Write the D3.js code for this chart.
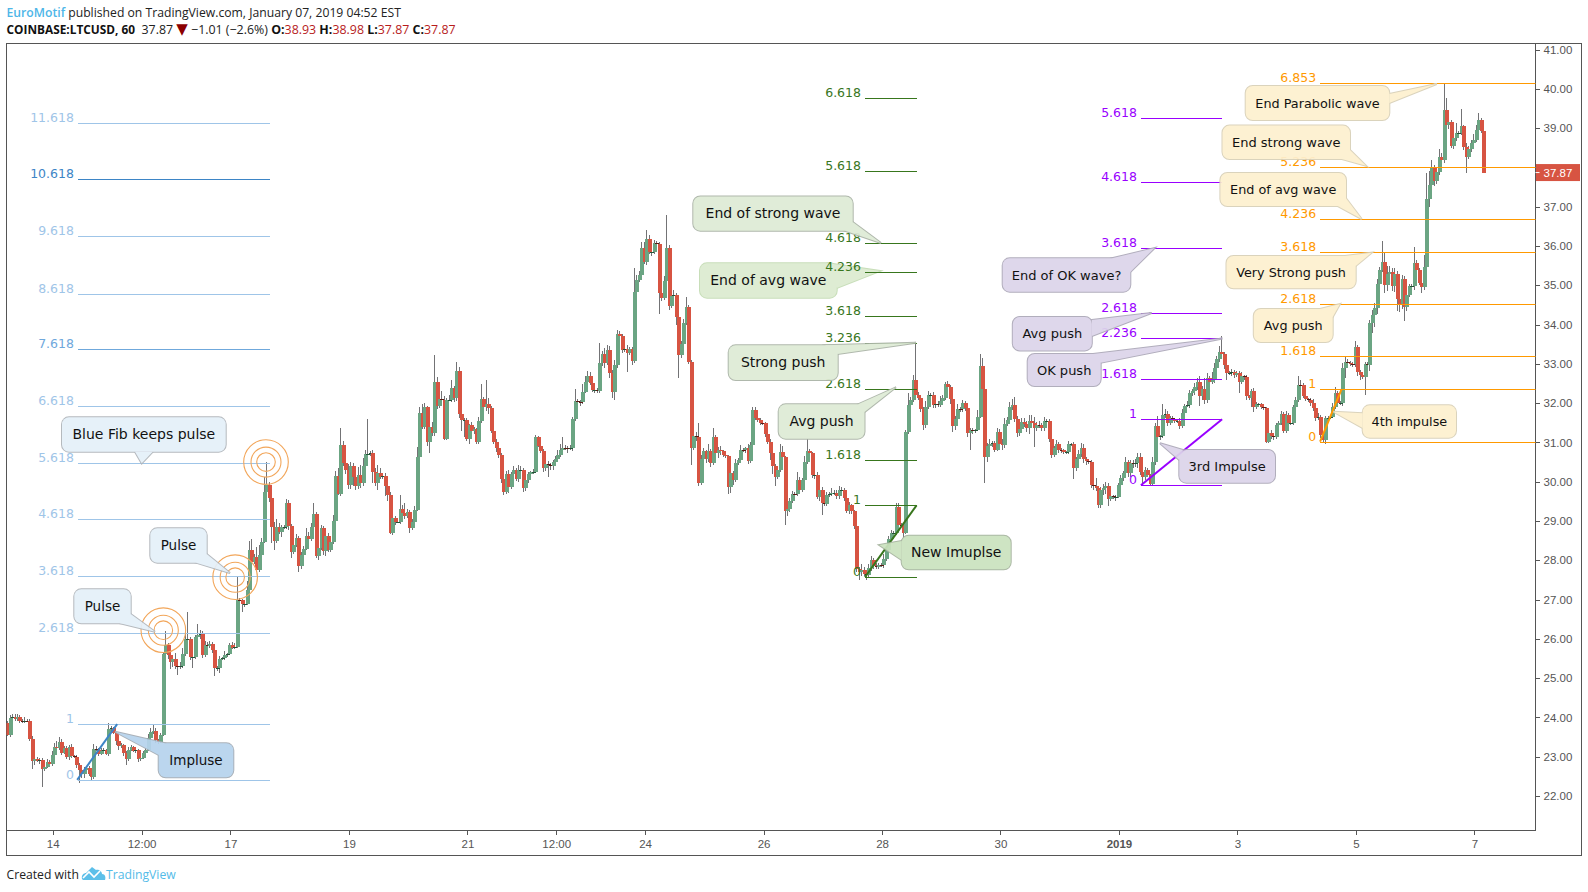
<!DOCTYPE html>
<html>
<head>
<meta charset="utf-8">
<title>COINBASE:LTCUSD, 60</title>
<script src="https://cdn.jsdelivr.net/npm/d3@7"></script>
<style>
  html, body { margin: 0; padding: 0; background: #fff; }
  svg { display: block; }
  .axis text { font-family: "Liberation Sans", sans-serif; font-size: 11.5px; fill: #555; }
  .axis line, .axis path { stroke: #555; shape-rendering: crispEdges; }
</style>
</head>
<body>
<svg id="chart" width="1588" height="892"></svg>
<script>
// hourly closes, 24 to a line
const closes = [
  23.55,23.98,24.00,23.96,24.02,23.92, 23.90,23.92,23.91,23.45,22.88,22.95, 22.90,22.92,22.70,22.75,22.86,22.82, 23.05,23.25,23.22,23.38,23.10,23.22,
  23.00,23.25,23.02,23.00,22.78,22.65, 22.55,22.65,22.72,22.55,22.49,23.20, 23.18,23.08,23.15,23.17,23.08,23.70, 23.72,23.60,23.40,23.27,23.30,23.10,
  22.95,23.18,23.25,23.15,23.16,22.95, 22.98,23.10,23.18,23.48,23.62,23.66, 23.42,23.37,23.55,25.62,25.85,25.59, 25.41,25.48,25.30,25.29,25.30,25.62,
  26.00,26.00,25.55,25.55,26.05,26.10, 26.12,25.60,25.85,25.83,25.88,25.72, 25.25,25.25,25.50,25.51,25.60,25.62, 25.85,25.78,25.80,27.00,26.98,26.88,
  26.90,27.25,28.25,27.95,28.08,27.75, 28.14,28.47,29.73,29.92,29.59,28.85, 28.50,28.85,28.72,28.84,28.85,29.45, 28.87,28.22,28.40,28.58,27.85,28.13,
  28.30,28.63,28.53,28.85,29.17,28.10, 28.32,28.81,28.24,28.62,28.26,28.47, 29.00,30.15,29.70,30.93,30.48,30.30, 29.92,30.40,30.13,29.89,30.17,29.97,
  30.40,30.70,30.70,30.72,30.25,29.98, 30.23,30.12,30.14,29.88,29.66,28.70, 29.07,28.98,28.98,29.30,29.21,29.13, 29.22,28.81,28.98,29.28,30.62,31.74,
  31.40,31.89,31.02,31.40,31.25,32.55, 31.93,32.10,32.08,31.10,32.08,32.08, 32.38,32.12,32.82,31.73,31.58,31.58, 31.08,31.44,31.30,31.34,31.02,31.54,
  32.10,31.89,31.98,31.87,31.29,31.00, 30.87,30.68,30.08,29.75,30.19,29.87, 30.19,30.31,30.08,30.31,30.31,29.85, 30.04,30.19,30.24,30.24,31.13,30.92,
  30.79,30.34,30.44,30.42,30.40,30.51, 30.57,30.68,30.80,30.87,30.86,30.84, 30.85,31.60,32.05,32.04,32.02,32.29, 32.55,32.70,32.52,32.33,32.34,32.32,
  33.03,33.26,33.01,33.35,32.76,32.29, 32.97,33.76,33.72,33.35,33.37,33.28, 33.37,33.08,34.84,35.13,35.26,35.94, 35.60,36.17,35.85,35.86,36.07,36.05,
  34.81,34.68,35.11,35.94,34.48,34.73, 34.75,34.20,33.22,33.50,34.03,34.44, 33.05,30.85,31.16,31.15,29.97,30.59, 30.77,30.57,30.77,30.47,31.13,30.72,
  30.82,30.77,30.68,30.65,29.86,30.21, 30.04,30.47,30.55,30.81,30.80,30.85, 30.53,30.93,31.82,31.61,31.57,31.50, 31.49,31.22,31.02,30.74,30.40,30.13,
  30.30,30.76,30.62,29.26,29.30,29.50, 29.70,29.69,30.05,29.79,30.04,30.51, 30.77,30.72,30.17,30.18,29.62,29.80, 29.45,29.43,29.66,29.68,29.72,29.72,
  29.63,29.80,29.80,29.58,29.26,29.40, 29.25,28.87,27.79,27.70,27.76,27.65, 27.62,27.80,28.00,27.85,27.83,27.88, 27.87,28.03,28.25,28.55,28.70,28.70,
  29.35,28.91,28.90,28.70,31.27,31.95, 32.08,32.59,32.20,32.12,31.85,31.44, 31.90,32.22,32.22,31.95,31.97,31.96, 32.05,32.12,32.50,32.42,32.10,31.42,
  31.60,31.85,31.84,32.00,31.87,31.25, 31.31,31.30,31.31,31.64,32.94,32.35, 30.64,30.90,30.97,30.98,30.82,31.27, 30.97,30.93,31.48,31.56,31.91,31.95,
  31.59,31.23,31.35,31.53,31.48,31.36, 31.55,31.50,31.36,31.45,31.44,31.36, 31.55,31.55,31.10,30.68,30.85,30.95, 30.82,30.80,30.76,30.76,30.95,30.95,
  30.36,30.57,30.70,30.87,30.59,30.52, 30.51,29.91,29.90,29.85,29.42,29.79, 29.85,29.90,29.57,29.63,29.62,29.62, 29.91,30.10,30.21,30.49,30.21,30.47,
  30.46,30.47,30.64,30.26,30.13,30.30, 30.17,29.95,30.51,31.42,31.15,31.17, 31.70,31.72,31.50,31.62,31.60,31.55, 31.55,31.41,31.76,31.94,31.95,32.25,
  32.30,32.40,32.55,32.17,32.35,32.07, 32.63,32.55,32.60,32.89,33.12,33.30, 33.25,32.97,32.78,32.78,32.80,32.72, 32.76,32.55,32.68,32.66,32.17,32.13,
  32.30,31.89,31.98,31.98,31.89,31.87, 31.02,31.25,31.17,31.15,31.45,31.49, 31.73,31.30,31.70,31.50,31.50,31.90, 32.08,32.47,32.45,32.19,32.10,32.08,
  32.00,31.87,31.62,31.64,31.19,31.05, 31.63,31.63,31.65,31.91,32.25,32.00, 32.01,32.90,33.05,33.03,33.00,32.99, 33.44,32.80,32.72,32.67,32.99,32.98,
  34.03,34.24,34.41,35.03,35.39,35.60, 35.00,35.30,35.35,34.97,35.29,34.64, 34.50,35.15,34.44,34.75,34.98,34.98, 35.57,35.40,35.05,34.95,35.47,37.19,
  37.55,37.98,37.66,37.89,38.26,38.19, 39.46,39.08,39.15,38.55,38.74,38.87, 38.88,39.05,38.53,38.27,38.48,38.61, 38.70,38.95,39.22,38.93,37.87
];
const firstOpen = 23.85;

// wick lengths above and below the body, in cents
const wickUp = [
  5,8,10,10,6,5, 5,8,3,5,8,6, 4,5,6,5,8,5, 10,10,14,12,8,6,
  6,5,8,3,5,6, 5,10,5,4,3,12, 8,5,6,5,3,15, 6,4,3,4,5,3,
  4,8,5,3,4,3, 3,5,3,10,12,14, 8,3,5,2,35,5, 6,4,15,5,10,16,
  12,69,4,8,5,28, 10,8,10,8,6,5, 8,5,6,4,10,3, 5,6,10,60,5,4,
  6,22,25,30,8,25, 25,10,40,57,8,12, 12,20,10,5,4,12, 8,5,8,10,5,8,
  6,20,8,10,30,5, 8,10,6,12,8,6, 15,12,20,45,10,30, 14,10,8,6,20,25,
  20,12,89,5,8,10, 20,12,5,8,6,8, 25,5,3,35,10,25, 8,5,8,10,27,15,
  25,12,5,8,12,67, 12,6,20,10,5,12, 20,6,23,10,4,3, 5,4,8,5,4,10,
  39,6,60,15,6,5, 10,5,5,25,8,10, 6,8,5,12,8,4, 6,5,4,8,6,4,
  4,5,8,10,6,5, 8,12,15,26,6,5, 8,6,30,5,4,20, 14,12,10,5,4,5,
  49,8,15,12,10,8, 12,10,8,5,8,10, 5,5,60,12,10,15, 15,24,10,8,8,6,
  5,6,12,85,8,12, 12,6,5,8,10,25, 5,5,20,10,35,8, 8,5,18,6,25,5,
  6,8,5,4,3,8, 6,10,6,12,5,4, 10,8,8,8,6,5, 6,4,12,6,4,6,
  6,20,15,3,5,8, 6,4,20,8,5,15, 33,6,4,3,6,5, 6,4,8,6,12,6,
  8,10,6,4,4,8, 3,3,3,5,14,8, 3,10,10,6,8,4, 5,12,10,8,6,5,
  12,12,5,5,5,30, 8,12,94,8,6,5, 15,8,5,6,3,8, 12,10,5,6,5,4,
  8,12,6,8,6,3, 5,6,4,18,31,20, 3,8,12,6,5,10, 6,12,15,8,12,15,
  20,8,10,10,8,6, 14,14,14,8,10,6, 10,5,4,4,5,10, 5,5,3,3,8,4,
  5,6,10,12,10,3, 3,4,3,20,5,8, 8,10,8,5,4,4, 5,8,6,15,6,8,
  8,12,10,8,8,8, 6,3,12,8,25,3, 28,14,8,6,6,3, 5,6,10,5,10,8,
  5,12,10,15,8,30, 15,6,20,12,8,15, 40,6,4,5,6,5, 5,5,12,4,5,5,
  6,8,6,3,3,3, 3,3,6,5,5,6, 8,5,10,6,5,5, 8,21,12,6,5,4,
  5,10,4,10,5,6, 5,5,3,10,15,6, 5,12,15,8,4,5, 14,5,5,6,5,5,
  8,12,14,14,8,53, 25,20,15,10,15,8, 5,12,8,6,6,6, 40,8,5,8,30,66,
  35,20,8,10,22,10, 68,30,8,6,6,25, 6,45,4,8,6,10, 15,12,16,5,5
];
const wickDown = [
  3,6,5,4,6,6, 5,4,3,5,20,10, 4,8,48,6,4,5, 5,6,4,6,5,4,
  5,8,6,4,6,33, 8,10,6,5,8,5, 4,6,3,5,3,5, 4,3,10,10,6,8,
  15,5,4,4,5,8, 5,3,4,3,4,3, 8,5,3,3,3,10, 18,12,6,20,6,3,
  6,4,8,30,6,8, 10,8,6,5,5,8, 20,8,12,4,4,5, 4,5,3,3,5,20,
  6,3,3,12,5,5, 5,4,3,4,10,40, 25,5,5,12,4,5, 10,15,5,6,14,6,
  5,4,5,5,5,3, 8,6,10,12,6,6, 5,4,5,6,8,10, 10,10,25,10,8,12,
  8,6,6,5,28,8, 18,6,6,25,14,3, 5,8,3,6,6,8, 6,12,5,4,3,3,
  6,6,10,30,8,8, 8,5,6,3,5,3, 5,8,6,10,30,45, 5,12,8,8,5,6,
  5,8,8,15,6,5, 12,8,12,8,5,15, 6,8,5,8,4,12, 8,6,4,4,3,3,
  5,8,6,30,10,10, 5,5,6,5,4,12, 4,6,5,5,8,4, 3,3,6,4,8,6,
  6,8,12,5,12,15, 20,8,10,8,6,48, 6,10,6,25,5,6, 6,8,6,10,6,20,
  55,8,6,8,10,6, 12,20,59,6,8,5, 6,43,4,12,8,5, 12,10,6,10,5,8,
  12,8,6,5,16,14, 12,5,5,6,4,6, 8,6,5,5,6,5, 5,8,6,18,20,24,
  6,5,8,36,12,8, 5,5,6,8,6,5, 6,6,8,10,6,12, 30,6,6,5,5,5,
  8,6,5,6,6,8, 6,8,8,19,10,6, 12,6,8,6,6,4, 4,6,5,6,6,4,
  5,8,6,12,3,6, 5,4,6,5,8,12, 6,6,8,8,8,5, 6,6,5,6,12,15,
  10,6,6,6,6,12, 44,8,5,3,3,10, 67,15,10,8,6,4, 6,12,8,6,5,8,
  8,10,6,8,8,10, 14,10,47,8,8,8, 6,6,10,8,6,6, 10,6,5,6,6,3,
  28,8,8,6,12,10, 5,8,12,8,8,10, 12,15,18,5,6,10, 3,5,8,6,8,10,
  10,8,12,8,20,8, 6,3,4,8,12,8, 6,8,8,6,6,6, 5,8,5,6,4,8,
  6,8,6,25,8,10, 6,5,5,8,6,8, 6,10,20,6,8,8, 6,28,5,6,8,5,
  24,12,5,4,4,4, 3,3,8,8,5,5, 5,6,6,5,6,5, 5,5,6,6,5,6,
  8,6,8,5,8,3, 8,6,3,4,5,5, 4,8,25,6,5,8, 6,10,12,6,45,6,
  15,25,30,14,10,5, 20,15,18,12,15,30, 18,10,34,10,6,5, 10,6,5,14,8,10,
  20,35,12,8,8,10, 8,12,10,6,8,6, 6,5,8,40,6,8, 6,6,8,6,0
];

// axis labels; 38.00 sits under the last price tag in the picture
const priceTicks = [22,23,24,25,26,27,28,29,30,31,32,33,34,35,36,37,39,40,41];
const timeTicks = [18.5,54.5,90.5,138.5,186.5,222.5,258.5,306.5,354.5,402.5,450.5,498.5,546.5,594.5];
const timeLabels = ['14','12:00','17','19','21','12:00','24','26','28','30','2019','3','5','7'];
const lastPrice = 37.87;

// fib levels
const blueRatios = ['0','1','2.618','3.618','4.618','5.618','6.618','7.618','8.618','9.618','10.618','11.618'];
const bluePrices = [22.41,23.83,26.15,27.59,29.04,30.48,31.93,33.37,34.79,36.26,37.70,39.13];
const greenRatios = ['0','1','1.618','2.618','3.236','3.618','4.236','4.618','5.618','6.618'];
const greenPrices = [27.57,29.40,30.56,32.36,33.52,34.22,35.35,36.08,37.91,39.76];
const purpleRatios = ['0','1','1.618','2.236','2.618','3.618','4.618','5.618'];
const purplePrices = [29.91,31.59,32.62,33.65,34.30,35.95,37.62,39.27];
const orangeRatios = ['0','1','1.618','2.618','3.618','4.236','5.236','6.853'];
const orangePrices = [31.02,32.36,33.19,34.53,35.84,36.68,38.01,40.15];

const fibSets = [
  { ratios: blueRatios, prices: bluePrices, from: 28.7, to: 106.7, color: '#9fc5e8', dark: { '10.618': '#3d85c6', '7.618': '#6fa8dc' }, impulse: [28.4, 44.6] },
  { ratios: greenRatios, prices: greenPrices, from: 347.6, to: 368.5, color: '#38761d', impulse: [347.6, 368.5] },
  { ratios: purpleRatios, prices: purplePrices, from: 459.4, to: 492.3, color: '#9900ff', impulse: [459.4, 492.3] },
  { ratios: orangeRatios, prices: orangePrices, from: 532, to: 621, color: '#ff9900', impulse: [532, 540.7] }
];

// pulse rings: bar index and price of each centre
const pulseBars = [63.3, 92.4, 104.9];
const pulsePrices = [26.22, 27.57, 30.5];
const ringRadii = [9.3, 15, 22.3];

// balloon notes, placed in screen pixels like the drawing tools do
const BLUE = { fill: '#e5f0f9', stroke: '#b0b5ba' };
const BLUE_DARK = { fill: '#b6d3ed', stroke: '#a4acb4' };
const GREEN = { fill: '#deebd6', stroke: '#aab3a6' };
const GREEN_LIGHT = { fill: '#dcebd0', stroke: '#c4dcb4' };
const GREEN_DARK = { fill: '#cbe2bf', stroke: '#a5b39e' };
const PURPLE = { fill: '#dcd5ea', stroke: '#aca8b8' };
const ORANGE = { fill: '#fdf0cf', stroke: '#d8d0b8' };

const notes = [
  { text: 'Blue Fib keeps pulse', size: 14, box: [62, 417.3, 163.7, 34.4], tail: [[135, 451.7], [152.7, 451.7]], tip: [141.7, 463.3], style: BLUE },
  { text: 'Pulse', size: 13.5, box: [150.3, 528.3, 56.4, 34.4], tail: [[206.7, 554], [196, 562.7]], tip: [230, 573], style: BLUE },
  { text: 'Pulse', size: 13.5, box: [74.3, 589.3, 56.4, 34], tail: [[130.7, 614], [120, 623.3]], tip: [155, 631.7], style: BLUE },
  { text: 'Impluse', size: 13.5, box: [158.7, 743.3, 74.6, 34], tail: [[165, 743.3], [158.7, 755]], tip: [115, 731.7], style: BLUE_DARK },
  { text: 'End of strong wave', size: 14, box: [693.3, 196.5, 159.4, 34.2], tail: [[852.7, 222], [845, 230.7]], tip: [881, 243], style: GREEN },
  { text: 'End of avg wave', size: 14, under: true, box: [700, 263.3, 136.7, 34.4], tail: [[828, 263.3], [836.7, 288]], tip: [880, 271], style: GREEN_LIGHT },
  { text: 'Strong push', size: 14, box: [728.7, 345.3, 109, 34.7], tail: [[825, 345.3], [837.7, 354]], tip: [916, 342.7], style: GREEN },
  { text: 'Avg push', size: 14, box: [778.7, 404.3, 85.8, 34.4], tail: [[858, 404.3], [864.5, 412]], tip: [896, 387.3], style: GREEN },
  { text: 'New Imuplse', size: 14, box: [901.7, 535.7, 109, 33.6], tail: [[901.7, 541], [901.7, 560]], tip: [879.3, 545], style: GREEN_DARK },
  { text: 'End of OK wave?', size: 13, box: [1002.7, 258.3, 127.6, 33.4], tail: [[1112, 258.3], [1130.3, 272]], tip: [1154.6, 248], style: PURPLE },
  { text: 'Avg push', size: 13, box: [1012.8, 317, 79, 33.4], tail: [[1091.8, 320], [1091.8, 336]], tip: [1151.5, 313], style: PURPLE },
  { text: 'OK push', size: 13, box: [1027.7, 354, 73, 32], tail: [[1093, 354], [1100.7, 362.7]], tip: [1222.5, 338.5], style: PURPLE },
  { text: '3rd Impulse', size: 13, box: [1179.3, 450, 95.7, 32.7], tail: [[1183, 450], [1179.3, 460]], tip: [1160, 443.3], style: PURPLE },
  { text: 'End Parabolic wave', size: 12.8, box: [1245.7, 86, 143.6, 34], tail: [[1389.3, 94], [1389.3, 103]], tip: [1436.7, 84], style: ORANGE },
  { text: 'End strong wave', size: 13, box: [1222.5, 125.6, 127.5, 33.4], tail: [[1350, 150], [1341.7, 159]], tip: [1366, 165.7], style: ORANGE },
  { text: 'End of avg wave', size: 12.8, box: [1220.4, 173, 125.6, 33], tail: [[1346, 198.3], [1337.7, 206]], tip: [1361.7, 219], style: ORANGE },
  { text: 'Very Strong push', size: 12.8, box: [1226.5, 256, 129.2, 32.3], tail: [[1345, 256], [1355.7, 266]], tip: [1371.7, 252.7], style: ORANGE },
  { text: 'Avg push', size: 12.8, box: [1253.8, 309, 78.9, 33], tail: [[1320, 309], [1332.7, 317]], tip: [1340, 304], style: ORANGE },
  { text: '4th impulse', size: 12.8, box: [1362.7, 405.3, 93.3, 32.4], tail: [[1362.7, 413.3], [1362.7, 428]], tip: [1333.3, 411.7], style: ORANGE }
];

const PANE = { left: 6.5, top: 43.5, right: 1535.5, bottom: 830.5, outerRight: 1581.5, outerBottom: 855.5 };
const UP = '#6ba583', DOWN = '#d75442', WICK = '#737375', DOJI_UP = '#225437', DOJI_DOWN = '#5b1a13';
const LABEL_FONT = '"DejaVu Sans", sans-serif';

const x = d3.scaleLinear().domain([0, closes.length - 1]).range([7.1, 1483]);
const y = d3.scaleLinear().domain([22, 41]).range([796, 49.6]);

const candles = closes.map((close, i) => {
  const open = i === 0 ? firstOpen : closes[i - 1];
  return {
    i, open, close,
    high: Math.max(open, close) + (wickUp[i] || 0) / 100,
    low: Math.min(open, close) - (wickDown[i] || 0) / 100
  };
});

const svg = d3.select('#chart');
svg.append('defs').append('clipPath').attr('id', 'pane')
  .append('rect')
  .attr('x', PANE.left).attr('y', PANE.top)
  .attr('width', PANE.right - PANE.left).attr('height', PANE.bottom - PANE.top);

drawHeader();
drawFrame();
drawAxes();

const plot = svg.append('g').attr('clip-path', 'url(#pane)');
drawCandles();
drawNotes(notes.filter((d) => d.under));
drawFibs();
drawRings();
drawNotes(notes.filter((d) => !d.under));
drawLastPrice();
drawFooter();

function drawHeader() {
  const font = '"Open Sans", sans-serif';
  const line1 = svg.append('text').attr('x', 6.5).attr('y', 17).attr('font-family', font).attr('font-size', 12.2).attr('fill', '#222');
  line1.append('tspan').attr('fill', '#4db6e8').attr('font-weight', 600).text('EuroMotif');
  line1.append('tspan').text(' published on TradingView.com, January 07, 2019 04:52 EST');

  const parts = [
    ['COINBASE:LTCUSD, 60', 700, '#111', 11.85], ['  37.87 ', 400, '#222', 12.4], ['▼', 400, '#8b0000', 15], [' −1.01 (−2.6%) ', 400, '#222', 12.4],
    ['O:', 700, '#111', 12.4], ['38.93 ', 400, '#b71c1c', 12.4], ['H:', 700, '#111', 12.4], ['38.98 ', 400, '#b71c1c', 12.4],
    ['L:', 700, '#111', 12.4], ['37.87 ', 400, '#b71c1c', 12.4], ['C:', 700, '#111', 12.4], ['37.87', 400, '#b71c1c', 12.4]
  ];
  svg.append('text').attr('x', 6.5).attr('y', 34).attr('font-family', font)
    .style('white-space', 'pre')
    .selectAll('tspan').data(parts).join('tspan')
    .attr('font-weight', (d) => d[1]).attr('fill', (d) => d[2]).attr('font-size', (d) => d[3])
    .attr('font-family', (d) => (d[0] === '▼' ? LABEL_FONT : font))
    .text((d) => d[0]);
}

function drawFrame() {
  svg.append('rect')
    .attr('x', PANE.left).attr('y', PANE.top)
    .attr('width', PANE.outerRight - PANE.left).attr('height', PANE.outerBottom - PANE.top)
    .attr('fill', 'none').attr('stroke', '#555').attr('shape-rendering', 'crispEdges');
}

function drawAxes() {
  const priceAxis = d3.axisRight(y).tickValues(priceTicks).tickFormat((d) => d.toFixed(2)).tickSize(4).tickPadding(4);
  const priceG = svg.append('g').attr('class', 'axis').attr('transform', `translate(${PANE.right},0)`).call(priceAxis);
  priceG.select('.domain').attr('d', `M0,${PANE.top}V${PANE.outerBottom - 25}`);

  const timeAxis = d3.axisBottom(x).tickValues(timeTicks).tickFormat((d, i) => timeLabels[i]).tickSize(4).tickPadding(5);
  const timeG = svg.append('g').attr('class', 'axis').attr('transform', `translate(0,${PANE.bottom})`).call(timeAxis);
  timeG.select('.domain').attr('d', `M${PANE.left},0H${PANE.right}`);
  timeG.selectAll('.tick text').filter((d, i) => timeLabels[i] === '2019').attr('font-weight', 700);
}

function drawCandles() {
  plot.append('g').selectAll('line').data(candles).join('line')
    .attr('x1', (d) => Math.round(x(d.i)) + 0.5).attr('x2', (d) => Math.round(x(d.i)) + 0.5)
    .attr('y1', (d) => y(d.high)).attr('y2', (d) => y(d.low))
    .attr('stroke', WICK).attr('shape-rendering', 'crispEdges');

  plot.append('g').selectAll('rect').data(candles).join('rect')
    .attr('x', (d) => Math.round(x(d.i)) - 1)
    .attr('width', 4)
    .attr('y', (d) => y(Math.max(d.open, d.close)))
    .attr('height', (d) => Math.max(1, Math.abs(y(d.open) - y(d.close))))
    .attr('fill', (d) => {
      const flat = Math.abs(d.open - d.close) < 0.03;
      if (d.close >= d.open) return flat ? DOJI_UP : UP;
      return flat ? DOJI_DOWN : DOWN;
    })
    .attr('shape-rendering', 'crispEdges');
}

function drawFibs() {
  fibSets.forEach((set) => {
    const levels = set.ratios.map((ratio, i) => ({ ratio, price: set.prices[i], color: (set.dark && set.dark[ratio]) || set.color }));
    const g = plot.append('g');

    g.selectAll('line.level').data(levels).join('line')
      .attr('class', 'level')
      .attr('x1', x(set.from)).attr('x2', x(set.to))
      .attr('y1', (d) => Math.round(y(d.price)) + 0.5).attr('y2', (d) => Math.round(y(d.price)) + 0.5)
      .attr('stroke', (d) => d.color)
      .attr('shape-rendering', 'crispEdges');

    g.selectAll('text').data(levels).join('text')
      .attr('x', x(set.from) - 4).attr('y', (d) => y(d.price) - 1)
      .attr('text-anchor', 'end')
      .attr('font-family', LABEL_FONT).attr('font-size', 12.5)
      .attr('fill', (d) => d.color)
      .text((d) => d.ratio);

    // the impulse the fib was drawn on, level 0 to level 1
    g.append('line')
      .attr('x1', x(set.impulse[0])).attr('y1', y(set.prices[0]))
      .attr('x2', x(set.impulse[1])).attr('y2', y(set.prices[1]))
      .attr('stroke', set === fibSets[0] ? '#3d85c6' : set.color)
      .attr('stroke-width', 2);
  });
}

function drawRings() {
  const rings = pulseBars.flatMap((bar, i) => ringRadii.map((r) => ({ bar, price: pulsePrices[i], r })));
  plot.append('g').selectAll('circle').data(rings).join('circle')
    .attr('cx', (d) => x(d.bar)).attr('cy', (d) => y(d.price)).attr('r', (d) => d.r)
    .attr('fill', 'none').attr('stroke', '#f2a65a').attr('stroke-width', 1.1);
}

function drawNotes(items) {
  const note = plot.append('g').selectAll('g').data(items).join('g').attr('opacity', 0.93);

  const boxes = (sel) => sel
    .attr('x', (d) => d.box[0]).attr('y', (d) => d.box[1])
    .attr('width', (d) => d.box[2]).attr('height', (d) => d.box[3])
    .attr('rx', 7).attr('ry', 7);
  const tails = (sel) => sel
    .attr('points', (d) => [d.tail[0], d.tip, d.tail[1]].map((p) => p.join(',')).join(' '));

  // outline first, fill on top, so box and tail read as one shape
  note.append('rect').call(boxes).attr('fill', 'none').attr('stroke', (d) => d.style.stroke).attr('stroke-width', 2);
  note.append('polygon').call(tails).attr('fill', 'none').attr('stroke', (d) => d.style.stroke).attr('stroke-width', 2);
  note.append('rect').call(boxes).attr('fill', (d) => d.style.fill);
  note.append('polygon').call(tails).attr('fill', (d) => d.style.fill);

  note.append('text')
    .attr('x', (d) => d.box[0] + d.box[2] / 2).attr('y', (d) => d.box[1] + d.box[3] / 2 + 4.5)
    .attr('text-anchor', 'middle')
    .attr('font-family', LABEL_FONT).attr('font-size', (d) => d.size).attr('fill', '#000')
    .text((d) => d.text);
}

function drawLastPrice() {
  const g = svg.append('g').attr('transform', `translate(${PANE.right},${y(lastPrice)})`);
  g.append('rect').attr('x', 0.5).attr('y', -8.5).attr('width', 44).attr('height', 17).attr('fill', DOWN);
  g.append('line').attr('x1', 0).attr('x2', 4).attr('stroke', '#fff');
  g.append('text').attr('x', 8).attr('y', 4).attr('font-family', '"Liberation Sans", sans-serif').attr('font-size', 11.5).attr('fill', '#fff').text(lastPrice.toFixed(2));
}

function drawFooter() {
  const font = '"Open Sans", sans-serif';
  svg.append('text').attr('x', 6.5).attr('y', 879).attr('font-family', font).attr('font-size', 12.2).attr('fill', '#222').text('Created with');
  const logo = svg.append('g').attr('transform', 'translate(82,866)');
  logo.append('path')
    .attr('d', 'M0,13 C-1,9 2,7 4,7 L10,1 L14,4 C16,3 20,5 20,8 C23,8 24,11 23,14 L1,14 Z')
    .attr('fill', '#5cbfe9');
  logo.append('path').attr('d', 'M1,12 L7,6 L12,11 L18,5').attr('fill', 'none').attr('stroke', '#fff').attr('stroke-width', 1.6);
  svg.append('text').attr('x', 106).attr('y', 879).attr('font-family', font).attr('font-size', 12.2).attr('fill', '#54bbe8').text('TradingView');
}
</script>
</body>
</html>
